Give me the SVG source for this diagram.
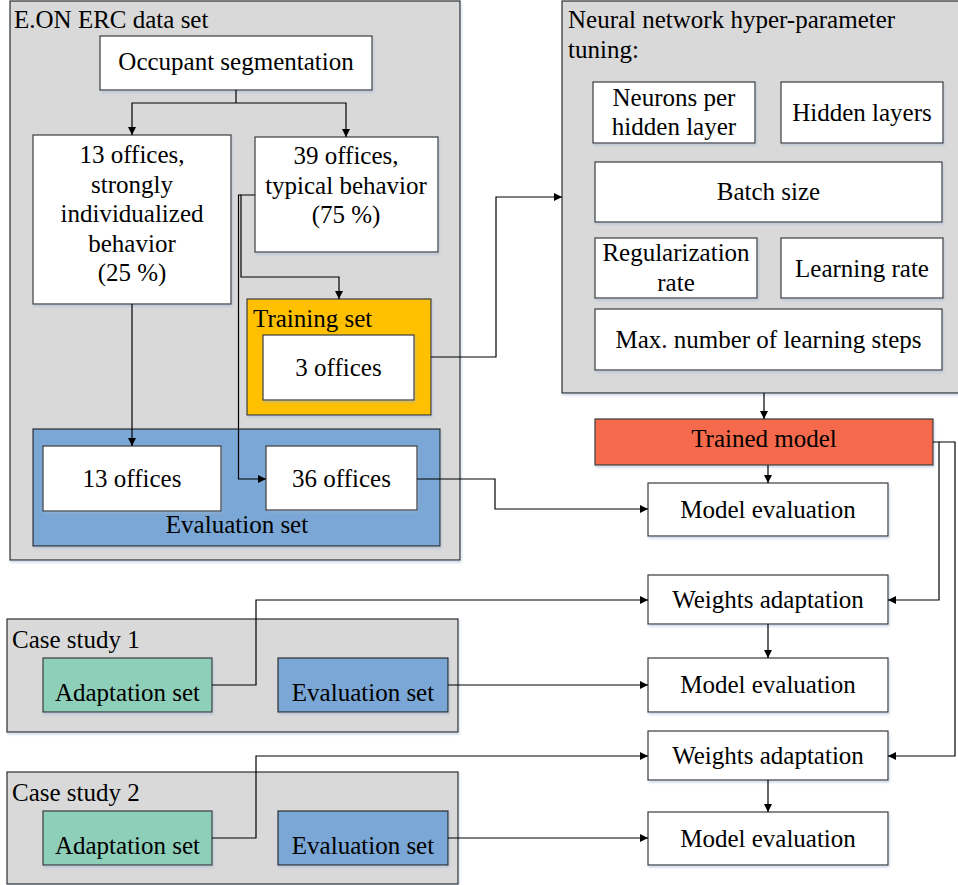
<svg xmlns="http://www.w3.org/2000/svg" width="958" height="885" viewBox="0 0 958 885">
<defs>
<marker id="ah" viewBox="0 0 10 10" refX="10" refY="5" markerWidth="9" markerHeight="8" markerUnits="userSpaceOnUse" orient="auto">
<path d="M0,0 L10,5 L0,10 z" fill="#000"/>
</marker>
<filter id="sh" x="-5%" y="-5%" width="110%" height="115%">
<feDropShadow dx="1" dy="2" stdDeviation="1.2" flood-color="#9fb3d0" flood-opacity="0.5"/>
</filter>
</defs>
<style>
text{font-size:25px;fill:#000}
.c{text-anchor:middle}
.grp{fill:#d9d9d9;stroke:#2b2b2b;stroke-width:1.2;filter:url(#sh)}
.box{fill:#fff;stroke:#3a3a3a;stroke-width:1.2;filter:url(#sh)}
.train{fill:#ffc000;stroke:#3a3a3a;stroke-width:1.2;filter:url(#sh)}
.eval{fill:#7aa7d5;stroke:#2b2b2b;stroke-width:1.2;filter:url(#sh)}
.model{fill:#f56b4d;stroke:#3a3a3a;stroke-width:1.2;filter:url(#sh)}
.adapt{fill:#8ecfba;stroke:#3a3a3a;stroke-width:1.2;filter:url(#sh)}
.ln{fill:none;stroke:#000;stroke-width:1.2}
.ar{marker-end:url(#ah)}
</style>
<g font-family="'Liberation Serif', 'DejaVu Serif', serif">
<g id="eon-container">
<rect class="grp" x="10" y="1" width="450" height="559"/>
<text x="14" y="28">E.ON ERC data set</text>
</g>
<g id="nn-container">
<rect class="grp" x="562" y="1" width="400" height="392"/>
<text x="568" y="28">Neural network hyper-parameter</text>
<text x="568" y="58">tuning:</text>
</g>
<g id="case1-container">
<rect class="grp" x="7" y="619" width="451" height="113"/>
<text x="12" y="648">Case study 1</text>
</g>
<g id="case2-container">
<rect class="grp" x="7" y="772" width="451" height="112"/>
<text x="12" y="801">Case study 2</text>
</g>

<g id="occupant">
<rect class="box" x="100" y="36" width="272" height="54"/>
<text class="c" x="236" y="70">Occupant segmentation</text>
</g>
<g id="offices13-ind">
<rect class="box" x="33" y="135" width="198" height="169"/>
<text class="c" x="132" y="163">13 offices,</text>
<text class="c" x="132" y="192.5">strongly</text>
<text class="c" x="132" y="222">individualized</text>
<text class="c" x="132" y="251.5">behavior</text>
<text class="c" x="132" y="281">(25 %)</text>
</g>
<g id="offices39">
<rect class="box" x="255" y="137" width="183" height="115"/>
<text class="c" x="346" y="164">39 offices,</text>
<text class="c" x="346" y="193.5">typical behavior</text>
<text class="c" x="346" y="223">(75 %)</text>
</g>
<g id="training-set">
<rect class="train" x="247" y="299" width="184" height="116"/>
<text x="253" y="327">Training set</text>
</g>
<g id="offices3">
<rect class="box" x="263" y="335" width="151" height="65"/>
<text class="c" x="338.5" y="376">3 offices</text>
</g>
<g id="evaluation-set">
<rect class="eval" x="33" y="429" width="407" height="117"/>
<text class="c" x="237" y="533">Evaluation set</text>
</g>
<g id="offices13">
<rect class="box" x="43" y="446" width="178" height="65"/>
<text class="c" x="132" y="487">13 offices</text>
</g>
<g id="offices36">
<rect class="box" x="266" y="446" width="151" height="64"/>
<text class="c" x="341.5" y="487">36 offices</text>
</g>

<g id="neurons">
<rect class="box" x="593" y="82" width="162" height="61"/>
<text class="c" x="674" y="106">Neurons per</text>
<text class="c" x="674" y="135">hidden layer</text>
</g>
<g id="hidden-layers">
<rect class="box" x="781" y="82" width="162" height="61"/>
<text class="c" x="862" y="121">Hidden layers</text>
</g>
<g id="batch-size">
<rect class="box" x="595" y="162" width="347" height="60"/>
<text class="c" x="768.5" y="200">Batch size</text>
</g>
<g id="regularization">
<rect class="box" x="595" y="238" width="162" height="60"/>
<text class="c" x="676" y="261">Regularization</text>
<text class="c" x="676" y="291">rate</text>
</g>
<g id="learning-rate">
<rect class="box" x="781" y="238" width="162" height="60"/>
<text class="c" x="862" y="277">Learning rate</text>
</g>
<g id="max-steps">
<rect class="box" x="595" y="309" width="347" height="61"/>
<text class="c" x="768.5" y="348">Max. number of learning steps</text>
</g>

<g id="trained-model">
<rect class="model" x="595" y="419" width="338" height="46"/>
<text class="c" x="764" y="447">Trained model</text>
</g>
<g id="model-eval-1">
<rect class="box" x="648" y="483" width="240" height="53"/>
<text class="c" x="768" y="518">Model evaluation</text>
</g>
<g id="weights-1">
<rect class="box" x="648" y="575" width="240" height="49"/>
<text class="c" x="768" y="608">Weights adaptation</text>
</g>
<g id="model-eval-2">
<rect class="box" x="648" y="658" width="240" height="54"/>
<text class="c" x="768" y="693">Model evaluation</text>
</g>
<g id="weights-2">
<rect class="box" x="648" y="731" width="240" height="49"/>
<text class="c" x="768" y="764">Weights adaptation</text>
</g>
<g id="model-eval-3">
<rect class="box" x="648" y="812" width="240" height="53"/>
<text class="c" x="768" y="847">Model evaluation</text>
</g>

<g id="adapt-1">
<rect class="adapt" x="43" y="658" width="169" height="54"/>
<text class="c" x="127.5" y="701">Adaptation set</text>
</g>
<g id="evalset-1">
<rect class="eval" x="278" y="658" width="170" height="54"/>
<text class="c" x="363" y="701">Evaluation set</text>
</g>
<g id="adapt-2">
<rect class="adapt" x="43" y="811" width="169" height="54"/>
<text class="c" x="127.5" y="854">Adaptation set</text>
</g>
<g id="evalset-2">
<rect class="eval" x="278" y="811" width="170" height="54"/>
<text class="c" x="363" y="854">Evaluation set</text>
</g>
</g>
<g id="connectors">
<path class="ln" d="M236,90 V103"/>
<path class="ln ar" d="M236,103 H132 V135"/>
<path class="ln ar" d="M236,103 H346 V137"/>
<path class="ln ar" d="M255,195 H241 V277 H339 V299"/>
<path class="ln ar" d="M241,195 H238.5 V479 H266"/>
<path class="ln ar" d="M132,304 V446"/>
<path class="ln ar" d="M431,357 H496 V197 H562"/>
<path class="ln ar" d="M417,479 H495 V509 H648"/>
<path class="ln ar" d="M764,393 V419"/>
<path class="ln ar" d="M768,465 V483"/>
<path class="ln ar" d="M933,442 H939 V600 H888"/>
<path class="ln ar" d="M939,442 H955 V756 H888"/>
<path class="ln ar" d="M768,624 V658"/>
<path class="ln ar" d="M768,780 V812"/>
<path class="ln ar" d="M212,685 H256 V600 H648"/>
<path class="ln ar" d="M448,685 H648"/>
<path class="ln ar" d="M212,838 H256 V756 H648"/>
<path class="ln ar" d="M448,838 H648"/>
</g>
</svg>
